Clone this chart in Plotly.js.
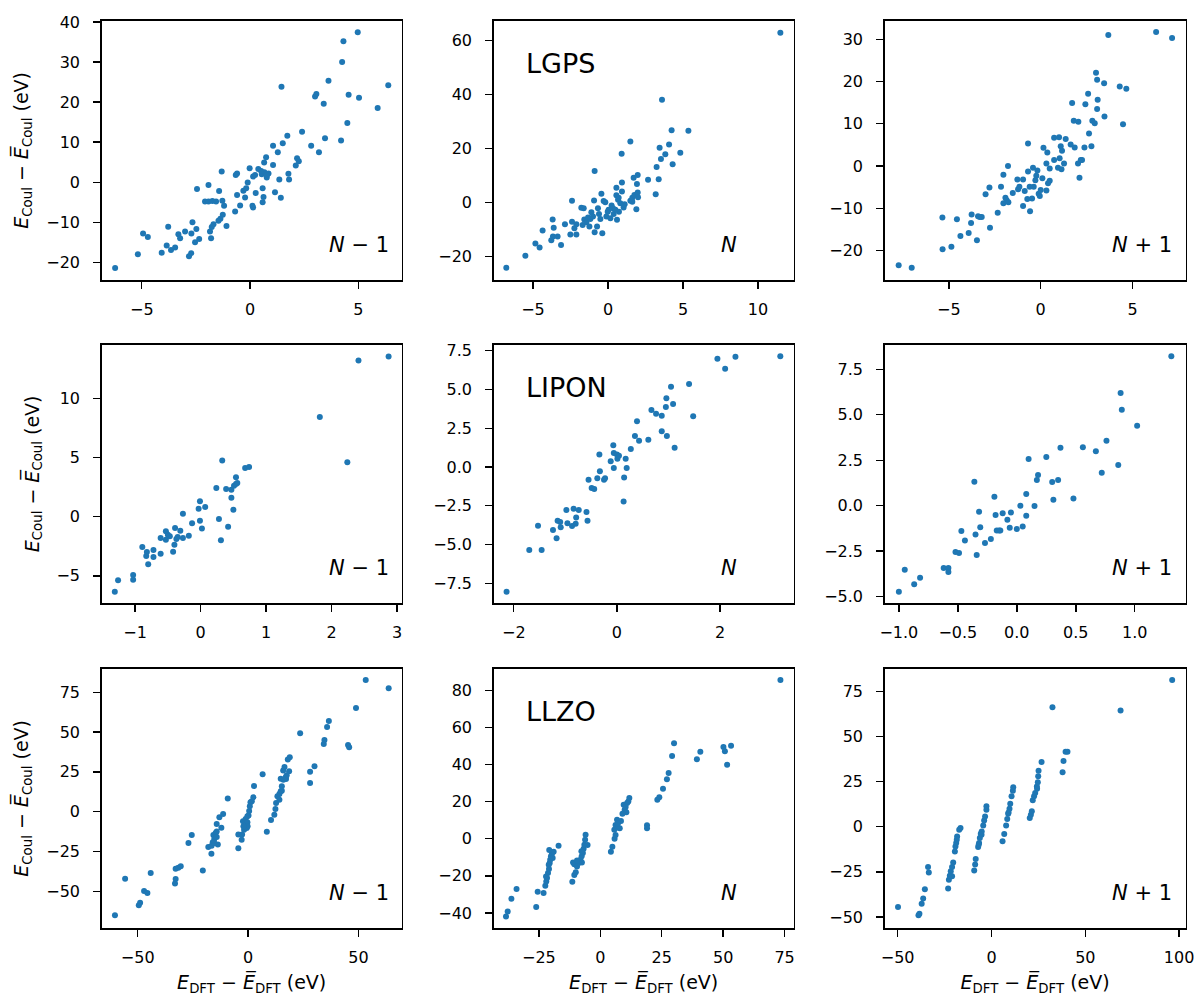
<!DOCTYPE html>
<html><head><meta charset="utf-8">
<script src="https://cdn.plot.ly/plotly-3.0.1.min.js"></script>
<style>html,body{margin:0;padding:0;background:#fff}</style>
</head><body><div id="chart" style="width:1197px;height:999px"></div>
<script>
// ---- LGPS ----
const lgps_m1_x = [-6.23,-5.18,-4.94,-4.72,-4.08,-3.85,-3.78,-3.65,-3.46,-3.31,-3.23,-3.0,-2.82,-2.72,-2.71,-2.66,-2.54,-2.48,-2.35,-2.45,-2.08,-1.92,-1.85,-1.80,-1.77,-1.69,-1.92,-1.74,-1.57,-1.43,-1.31,-1.28,-1.2,-1.26,-1.37,-1.46,-1.09,-0.69,-0.66,-0.6,-0.6,-0.46,-0.31,-0.23,-0.18,-0.11,-0.02,0.11,0.14,0.14,0.23,0.26,0.38,0.54,0.58,0.62,0.58,0.65,0.66,0.74,0.77,0.85,1.06,1.06,1.15,1.28,1.35,1.42,1.45,1.51,1.72,1.77,1.8,2.11,2.17,2.25,2.4,2.82,3.0,3.06,3.18,3.4,3.46,3.62,4.2,4.25,4.31,4.49,4.55,4.97,5.03,5.89,6.38,0.51,0.78];
const lgps_m1_y = [-21.4,-17.96,-12.8,-13.7,-17.6,-15.8,-11.1,-16.9,-16.3,-13.0,-14.0,-12.3,-18.5,-17.7,-12.8,-10.0,-15.0,-11.7,-14.2,-1.7,-4.8,-0.7,-12.3,-14.0,-11.2,-10.5,-4.8,-4.7,-4.8,-2.2,2.7,-4.6,-5.9,-8.1,-9.1,-9.6,-10.9,-7.3,1.8,2.2,-3.2,-5.8,-2.1,-3.8,-1.5,-0.1,3.5,-5.9,-6.3,1.4,1.8,-2.7,3.3,2.0,-1.5,-3.7,-5.0,4.9,2.5,6.2,1.2,2.2,4.3,9.1,-2.5,7.5,0.7,-3.9,23.8,9.7,11.6,2.1,0.7,4.2,6.0,5.2,12.6,9.1,21.4,22.0,7.5,19.6,11.0,25.3,10.4,30.0,35.2,14.8,21.8,37.4,21.1,18.5,24.2,2.8,1.8];
const lgps_n_x = [-6.78,-5.51,-4.84,-4.56,-4.36,-3.78,-3.69,-3.62,-3.67,-3.36,-3.13,-2.87,-2.51,-2.4,-2.4,-2.24,-2.11,-2.11,-1.78,-1.62,-1.69,-1.58,-1.44,-1.33,-1.24,-1.11,-1.0,-0.93,-0.89,-0.89,-0.73,-0.67,-0.6,-0.51,-0.44,-0.38,-0.29,-0.18,-0.11,-0.02,0.16,0.24,0.33,0.38,0.56,0.56,0.6,0.67,0.73,0.82,0.91,0.93,0.93,1.04,1.11,1.49,1.49,1.62,1.71,1.76,1.89,1.93,1.98,1.98,2.0,2.67,3.18,3.24,3.38,3.44,3.53,3.6,3.82,4.07,4.24,4.31,4.82,5.36,11.49,-1.18,0.04,0.49,0.71,1.62];
const lgps_n_y = [-24.3,-19.8,-15.3,-16.8,-10.5,-14.1,-6.4,-9.4,-12.7,-12.7,-15.8,-8.1,-11.9,0.6,-7.2,-9.6,-11.9,-8.1,-2.0,-2.2,-8.4,-6.4,-7.4,-5.6,-9.0,-3.7,-5.3,0.7,11.6,-11.1,-9.0,-2.2,-4.3,-6.2,3.2,-11.5,0.5,0.0,-5.3,-3.5,-5.9,-1.2,-2.2,-4.3,5.4,2.6,-6.5,0.9,-3.5,-0.4,18.0,7.3,4.0,-1.9,-0.7,22.5,0.6,1.7,9.1,2.7,-2.6,6.8,3.6,10.1,1.9,8.4,3.0,13.1,8.5,20.2,16.0,38.0,17.8,21.4,26.7,14.1,18.4,26.5,62.8,-6.2,-2.8,-2.8,1.7,0.2];
const lgps_p1_x = [-7.73,-7.02,-5.34,-5.35,-4.86,-4.56,-4.37,-3.92,-3.79,-3.76,-3.47,-3.41,-3.32,-3.21,-2.76,-3.0,-2.79,-2.34,-2.16,-2.03,-1.92,-2.03,-1.85,-1.76,-1.78,-1.52,-1.27,-1.23,-1.16,-0.96,-0.96,-0.87,-0.73,-0.69,-0.69,-0.58,-0.6,-0.47,-0.42,-0.38,-0.29,-0.24,-0.18,-0.11,-0.05,0.0,0.09,0.15,0.31,0.31,0.36,0.4,0.49,0.49,0.73,0.73,0.94,1.0,1.03,1.09,1.13,1.16,1.27,1.36,1.63,1.71,1.8,1.85,2.03,2.11,2.18,2.25,2.05,2.38,2.43,2.58,2.63,2.76,2.81,2.94,3.01,3.07,3.07,3.1,3.45,3.47,3.68,4.3,4.48,4.66,6.28,7.15];
const lgps_p1_y = [-23.5,-24.1,-19.7,-12.2,-19.1,-12.6,-16.6,-15.9,-13.5,-11.5,-17.6,-11.9,-12.1,-12.1,-14.6,-6.7,-5.1,-11.1,-4.9,-2.1,-7.5,-8.8,-8.1,-8.6,0.0,-6.4,-3.2,-5.5,-4.9,-9.5,-3.2,-5.9,-7.8,5.3,-1.3,-10.7,-4.9,-7.7,-0.4,-4.9,-3.4,-2.3,-1.1,-6.6,-7.1,-5.7,-2.9,4.3,0.6,-5.8,3.2,-4.1,-3.5,-0.6,6.7,1.4,-0.4,6.8,1.8,4.7,-0.8,3.6,0.6,6.4,5.1,14.9,10.7,4.4,0.6,-2.8,1.4,1.4,10.5,4.4,14.6,17.1,7.7,4.7,10.7,10.1,22.1,20.4,13.5,15.7,19.6,11.7,31.0,18.8,9.9,18.3,31.7,30.3];
// ---- LIPON ----
const lipon_m1_x = [-1.31,-1.26,-1.03,-1.03,-0.89,-0.82,-0.83,-0.80,-0.72,-0.72,-0.61,-0.61,-0.53,-0.53,-0.50,-0.47,-0.42,-0.40,-0.39,-0.37,-0.35,-0.31,-0.27,-0.27,-0.18,-0.13,-0.03,-0.01,-0.01,0.02,0.07,0.24,0.28,0.31,0.33,0.39,0.42,0.47,0.47,0.50,0.51,0.54,0.54,0.56,0.68,0.74,1.82,2.24,2.41,2.87];
const lipon_m1_y = [-6.34,-5.38,-4.93,-5.33,-2.57,-2.99,-3.33,-4.03,-2.82,-3.41,-1.80,-3.13,-1.24,-1.95,-1.52,-1.66,-2.96,-2.37,-0.96,-1.89,-1.72,-1.18,0.25,-1.80,-1.61,-0.56,0.68,1.30,-0.34,-0.99,0.82,2.42,-0.20,-2.0,4.76,2.34,-0.85,1.61,2.28,0.59,2.62,3.33,2.76,2.85,4.12,4.20,8.43,4.60,13.22,13.56];
const lipon_n_x = [-2.14,-1.70,-1.46,-1.53,-1.24,-1.17,-1.15,-1.10,-1.09,-0.98,-0.96,-0.87,-0.84,-0.79,-0.80,-0.74,-0.59,-0.57,-0.55,-0.49,-0.44,-0.38,-0.34,-0.33,-0.25,-0.23,-0.12,-0.07,-0.06,-0.06,0.0,0.01,0.04,0.13,0.14,0.17,0.19,0.27,0.35,0.39,0.43,0.61,0.67,0.76,0.87,0.87,0.95,0.96,0.97,1.05,1.09,1.12,1.40,1.48,1.95,2.10,2.30,3.17];
const lipon_n_y = [-8.04,-5.35,-5.35,-3.78,-4.06,-4.60,-3.46,-3.55,-3.89,-2.77,-3.63,-3.81,-2.69,-3.25,-3.66,-2.77,-2.90,-3.46,-0.82,-1.35,-1.42,-0.73,0.80,-0.28,-0.82,-0.73,0.37,1.40,0.90,-0.06,0.80,0.54,0.73,-2.22,-0.67,0.54,-0.06,1.16,2.0,2.95,1.70,1.76,3.68,3.44,3.31,2.30,3.87,4.43,2.0,5.18,4.06,1.25,5.35,3.27,6.99,6.34,7.12,7.14];
const lipon_p1_x = [-1.0,-0.95,-0.87,-0.82,-0.62,-0.58,-0.58,-0.52,-0.49,-0.47,-0.44,-0.36,-0.35,-0.34,-0.32,-0.31,-0.27,-0.22,-0.19,-0.18,-0.17,-0.15,-0.14,-0.12,-0.08,-0.06,-0.05,0.0,0.03,0.05,0.08,0.08,0.10,0.15,0.17,0.18,0.25,0.30,0.31,0.35,0.37,0.48,0.56,0.67,0.72,0.76,0.86,0.88,0.89,1.02,1.31];
const lipon_p1_y = [-4.73,-3.52,-4.32,-3.96,-3.42,-3.42,-3.64,-2.55,-2.60,-1.39,-1.92,1.32,-1.58,-2.71,-0.33,-1.19,-2.05,-1.83,0.49,-0.51,-1.37,-1.37,-1.37,-0.42,-0.77,-1.21,-0.37,-1.28,0.0,-1.14,-0.55,0.64,2.56,-0.02,1.41,1.68,2.67,1.30,0.33,1.41,3.19,0.40,3.21,2.99,1.81,3.57,2.23,6.19,5.27,4.40,8.21];
// ---- LLZO ----
const llzo_m1_x = [-60.3,-55.7,-49.5,-48.9,-47.1,-45.6,-44.1,-33.1,-32.8,-32.8,-31.6,-30.5,-27.0,-25.5,-20.5,-18.0,-16.6,-16.5,-16.0,-15.7,-15.3,-14.7,-14.2,-13.7,-14.2,-13.0,-12.1,-11.3,-9.2,-4.4,-4.4,-2.9,-2.7,-2.3,-1.8,-1.4,-1.1,-0.6,-0.3,0.2,0.5,0.8,1.1,1.7,2.4,2.7,-0.2,-2.1,6.6,8.5,10.4,11.9,12.4,12.7,13.3,14.2,14.8,15.3,14.8,15.9,16.5,17.2,17.5,18.0,18.9,18.6,17.1,16.0,23.6,28.1,28.1,30.1,34.3,34.6,35.8,36.6,45.3,45.8,48.9,53.3,63.7,-14.2,-15.3,-0.3,14.2,15.3];
const llzo_m1_y = [-65.1,-42.1,-58.8,-57.2,-49.8,-51.1,-38.5,-45.2,-42.3,-35.8,-35.2,-34.3,-19.7,-14.7,-36.9,-22.2,-26.4,-21.4,-19.3,-14.7,-17.2,-13.4,-7.7,-20.7,-15.9,-3.6,-10.1,-1.5,8.2,-23.0,-14.4,-17.6,-14.4,-6.1,-11.3,-9.2,-4.6,-10.3,-6.7,-2.5,0.4,3.4,5.9,6.5,9.0,16.1,-9.2,-9.2,23.5,-12.6,-5.2,-1.9,1.7,5.4,9.6,11.1,12.8,13.2,20.7,25.8,28.1,20.5,22.8,32.7,34.1,25.3,21.8,20.1,49.2,25.1,18.0,28.5,42.5,45.0,53.2,57.0,41.9,40.4,65.1,82.7,77.5,-12.4,-19.7,-2.9,7.5,15.9];
const llzo_n_x = [-38.4,-37.7,-36.2,-34.1,-26.1,-25.5,-23.1,-22.4,-22.0,-21.7,-21.3,-20.9,-20.6,-20.4,-20.1,-19.7,-19.0,-20.8,-22.1,-21.0,-17.0,-11.4,-10.6,-10.0,-11.1,-10.6,-9.5,-8.8,-8.1,-7.6,-7.1,-6.8,-6.5,-6.2,-6.0,-5.2,-9.5,-7.5,4.3,4.9,5.8,6.2,5.7,6.2,6.8,7.1,7.9,8.4,9.5,9.9,10.6,10.9,11.4,11.8,10.3,19.0,19.0,23.2,24.0,25.5,27.1,27.8,29.2,30.0,39.3,40.7,50.1,50.7,51.6,53.2,73.3,-19.4,-7.7,7.2,9.0];
const llzo_n_y = [-41.9,-39.2,-32.3,-27.1,-36.8,-28.6,-29.3,-25.3,-23.0,-21.2,-18.5,-16.3,-13.1,-11.3,-9.5,-8.1,-7.0,-6.1,-20.3,-14.0,-3.8,-23.2,-19.6,-18.1,-12.8,-13.8,-14.9,-13.1,-11.3,-9.5,-7.7,-5.4,-3.2,-0.5,2.2,-3.4,-11.7,-12.8,-7.0,-4.3,0.0,2.0,4.9,7.4,10.2,6.1,5.6,9.5,18.3,15.6,14.2,19.2,20.1,21.9,17.1,7.2,5.7,21.0,22.3,26.9,32.0,35.4,44.5,51.4,42.8,46.9,49.4,47.1,39.9,50.1,85.5,-10.4,-6.8,8.4,13.5];
const llzo_p1_x = [-49.8,-38.9,-38.4,-37.2,-36.4,-35.5,-33.8,-33.4,-23.1,-22.7,-22.2,-21.7,-21.0,-20.4,-19.5,-19.2,-18.8,-18.3,-17.2,-16.5,-18.5,-21.0,-9.2,-8.7,-8.4,-7.1,-6.6,-6.2,-5.7,-5.2,-4.4,-3.9,-3.4,-2.7,-2.7,-6.8,-5.3,5.9,6.8,7.8,8.4,8.9,9.6,10.0,10.7,11.4,11.6,9.1,20.4,21.0,21.5,22.0,22.7,24.2,24.7,24.9,25.1,26.7,24.3,23.3,32.5,37.9,38.4,39.5,40.5,68.8,96.3];
const llzo_p1_y = [-44.5,-49.1,-48.2,-42.7,-39.7,-34.7,-22.3,-25.3,-34.2,-29.4,-27.1,-24.7,-22.3,-19.8,-13.7,-10.9,-9.0,-5.4,-1.7,-0.7,-7.2,-27.5,-24.2,-21.0,-17.9,-11.3,-9.0,-6.3,-3.9,-2.6,0.6,3.5,5.7,9.4,11.3,-10.0,-4.4,-8.1,-4.1,0.6,4.2,7.2,10.0,12.7,16.8,19.9,21.8,7.9,4.8,6.6,8.5,14.6,16.8,22.3,24.6,27.9,31.0,35.8,21.0,18.6,66.1,30.1,36.4,41.5,41.5,64.4,81.2];

const panels = [
  {x: lgps_m1_x, y: lgps_m1_y, xr: [-6.85, 7.0], yr: [-24.4, 40.3], xt: [-5,0,5], yt: [-20,-10,0,10,20,30,40], lab: 'N − 1'},
  {x: lgps_n_x, y: lgps_n_y, xr: [-7.62, 12.38], yr: [-28.8, 67.3], xt: [-5,0,5,10], yt: [-20,0,20,40,60], lab: 'N', name: 'LGPS'},
  {x: lgps_p1_x, y: lgps_p1_y, xr: [-8.49, 7.88], yr: [-27.0, 34.4], xt: [-5,0,5], yt: [-20,-10,0,10,20,30], lab: 'N + 1'},
  {x: lipon_m1_x, y: lipon_m1_y, xr: [-1.51, 3.07], yr: [-7.30, 14.55], xt: [-1,0,1,2,3], yt: [-5,0,5,10], lab: 'N − 1'},
  {x: lipon_n_x, y: lipon_n_y, xr: [-2.39, 3.43], yr: [-8.77, 7.89], xt: [-2,0,2], yt: [-7.5,-5,-2.5,0,2.5,5,7.5], yfmt: '.1f', lab: 'N', name: 'LIPON'},
  {x: lipon_p1_x, y: lipon_p1_y, xr: [-1.12, 1.43], yr: [-5.35, 8.85], xt: [-1,-0.5,0,0.5,1], xfmt: '.1f', yt: [-5,-2.5,0,2.5,5,7.5], yfmt: '.1f', lab: 'N + 1'},
  {x: llzo_m1_x, y: llzo_m1_y, xr: [-66.3, 69.6], yr: [-73.1, 89.8], xt: [-50,0,50], yt: [-50,-25,0,25,50,75], lab: 'N − 1'},
  {x: llzo_n_x, y: llzo_n_y, xr: [-43.4, 78.7], yr: [-48.1, 91.6], xt: [-25,0,25,50,75], yt: [-40,-20,0,20,40,60,80], lab: 'N', name: 'LLZO'},
  {x: llzo_p1_x, y: llzo_p1_y, xr: [-56.9, 103.4], yr: [-56.1, 87.5], xt: [-50,0,50,100], yt: [-50,-25,0,25,50,75], lab: 'N + 1'}
];

const W = 1197, H = 999;
const colPx = [[101.7, 401.7], [493.7, 793.7], [884.7, 1185.5]];
const rowPx = [[20.7, 280], [344.7, 603], [668.7, 928]];
const font = 'DejaVu Sans, Arial, sans-serif';
const yTitle = '<i>E</i><sub>Coul</sub> − <i>E̅</i><sub>Coul</sub> (eV)';
const xTitle = '<i>E</i><sub>DFT</sub> − <i>E̅</i><sub>DFT</sub> (eV)';

const traces = [];
const layout = {
  width: W, height: H, margin: {l: 0, r: 0, t: 0, b: 0},
  paper_bgcolor: '#fff', plot_bgcolor: '#fff', showlegend: false,
  font: {family: font, size: 16, color: '#000'},
  annotations: []
};
panels.forEach((p, i) => {
  const r = Math.floor(i / 3), c = i % 3;
  const n = i + 1, xa = 'xaxis' + (n === 1 ? '' : n), ya = 'yaxis' + (n === 1 ? '' : n);
  const xr = 'x' + (n === 1 ? '' : n), yr = 'y' + (n === 1 ? '' : n);
  traces.push({type: 'scatter', mode: 'markers', x: p.x, y: p.y, xaxis: xr, yaxis: yr,
    marker: {color: '#1f77b4', size: 6, line: {width: 0}}, hoverinfo: 'x+y'});
  const common = {showgrid: false, zeroline: false, showline: true, linecolor: '#000', linewidth: 1.5,
    mirror: true, ticks: 'outside', ticklen: 7, tickwidth: 1.4, tickcolor: '#000',
    tickfont: {family: font, size: 16, color: '#000'}, fixedrange: true};
  layout[xa] = Object.assign({}, common, {
    domain: [colPx[c][0] / W, colPx[c][1] / W], range: p.xr, tickmode: 'array', tickvals: p.xt,
    anchor: yr, tickformat: p.xfmt || '', ticklabelstandoff: 7
  });
  layout[ya] = Object.assign({}, common, {
    domain: [1 - rowPx[r][1] / H, 1 - rowPx[r][0] / H], range: p.yr, tickmode: 'array', tickvals: p.yt,
    anchor: xr, tickformat: p.yfmt || '', ticklabelstandoff: 10
  });
  if (c === 0) layout[ya].title = {text: yTitle, font: {family: font, size: 19, color: '#000'}, standoff: 12};
  if (r === 2) layout[xa].title = {text: xTitle, font: {family: font, size: 19, color: '#000'}, standoff: 10};
  const labText = p.lab.replace('N', '<i>N</i>');
  layout.annotations.push({xref: xr + ' domain', yref: yr + ' domain', x: 0.75, y: 0.135,
    xanchor: 'left', yanchor: 'middle', showarrow: false, text: labText,
    font: {family: font, size: 21, color: '#000'}});
  if (p.name) layout.annotations.push({xref: xr + ' domain', yref: yr + ' domain', x: 0.1, y: 0.835,
    xanchor: 'left', yanchor: 'middle', showarrow: false, text: p.name,
    font: {family: font, size: 27, color: '#000'}});
});
Plotly.newPlot('chart', traces, layout, {displayModeBar: false, staticPlot: true});
</script></body></html>
